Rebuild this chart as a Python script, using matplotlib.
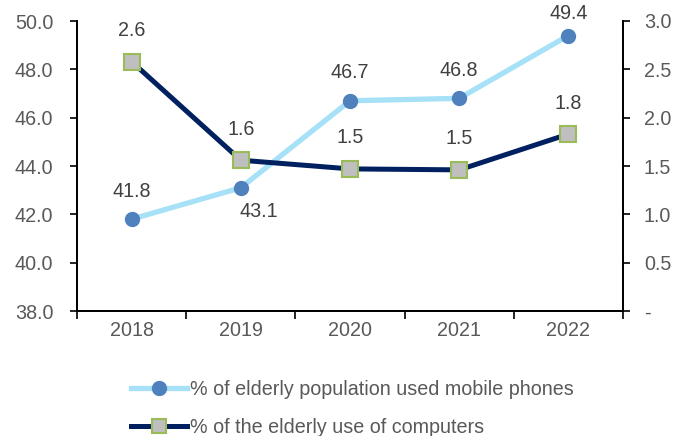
import matplotlib
matplotlib.use("Agg")
import matplotlib.pyplot as plt
from matplotlib.lines import Line2D

plt.rcParams['font.family'] = ['Liberation Sans', 'DejaVu Sans']

years = ["2018", "2019", "2020", "2021", "2022"]
mobile_pct = [41.8, 43.1, 46.7, 46.8, 49.4]
computer_pct = [2.58, 1.56, 1.47, 1.46, 1.83]
mobile_label = "% of elderly population used mobile phones"
computer_label = "% of the elderly use of computers"
left_ticks = [38.0, 40.0, 42.0, 44.0, 46.0, 48.0, 50.0]
right_ticks = [0.0, 0.5, 1.0, 1.5, 2.0, 2.5, 3.0]

text_color = "#595959"
label_color = "#404040"
light_blue = "#A6E1F7"
dot_blue = "#4F81BD"
navy = "#002060"
sq_face = "#BFBFBF"
sq_edge = "#9BBB59"
fs = 14.2

fig = plt.figure(figsize=(6.89, 4.36), dpi=100)
ax = fig.add_axes([77 / 689, 1 - 311 / 436, (623 - 77) / 689, (311 - 21) / 436])
ax2 = ax.twinx()

x = list(range(len(years)))

ax.plot(x, mobile_pct, color=light_blue, lw=3.8, marker="o", ms=10,
        markerfacecolor=dot_blue, markeredgecolor=dot_blue, zorder=3)
ax2.plot(x, computer_pct, color=navy, lw=3.6, marker="s", ms=11,
         markerfacecolor=sq_face, markeredgecolor=sq_edge, markeredgewidth=1.5,
         zorder=3)

ax.set_xlim(-0.5, len(years) - 0.5)
ax.set_ylim(38, 50)
ax2.set_ylim(0, 3)
ax.set_yticks(left_ticks)
ax.set_yticklabels([f"{v:.1f}" for v in left_ticks])
ax2.set_yticks(right_ticks)
ax2.set_yticklabels(["-" if v == 0 else f"{v:.1f}" for v in right_ticks])

# category labels centred, tick marks on category boundaries
ax.set_xticks([i - 0.5 for i in range(len(years) + 1)])
ax.set_xticklabels([])
ax.set_xticks(x, minor=True)
ax.set_xticklabels(years, minor=True)
ax.tick_params(axis="x", which="minor", length=0, pad=7.5, labelsize=fs,
               labelcolor=text_color)
ax.tick_params(axis="x", which="major", length=6, width=1.2, direction="out")
ax.tick_params(axis="y", length=5, width=1.2, direction="out", labelsize=fs,
               labelcolor=text_color, pad=12)
ax2.tick_params(axis="y", length=5, width=1.2, direction="out", labelsize=fs,
                labelcolor=text_color, pad=10)

for a in (ax, ax2):
    a.spines["top"].set_visible(False)
    for s in ("left", "right", "bottom"):
        a.spines[s].set_linewidth(1.3)
        a.spines[s].set_color("black")

# value labels
mobile_offsets = [(0, 28), (18, -24), (0, 28), (0, 28), (0, 22)]
for xi, v, off in zip(x, mobile_pct, mobile_offsets):
    ax.annotate(f"{v:.1f}", (xi, v), xytext=off, textcoords="offset pixels",
                ha="center", va="center", fontsize=fs, color=label_color)
for xi, v in zip(x, computer_pct):
    ax2.annotate(f"{v:.1f}", (xi, v), xytext=(0, 31), textcoords="offset pixels",
                 ha="center", va="center", fontsize=fs, color=label_color)

handles = [
    Line2D([], [], color=light_blue, lw=3.8, marker="o", ms=10,
           markerfacecolor=dot_blue, markeredgecolor=dot_blue),
    Line2D([], [], color=navy, lw=3.6, marker="s", ms=10,
           markerfacecolor=sq_face, markeredgecolor=sq_edge, markeredgewidth=1.5),
]
fig.legend(handles, [mobile_label, computer_label], loc="upper left",
           bbox_to_anchor=(123 / 689, 1 - 372 / 436), frameon=False,
           fontsize=fs, labelcolor=text_color, handlelength=2.85,
           handletextpad=0.15, labelspacing=0.95, borderaxespad=0)

fig.savefig("out.png", dpi=100)
